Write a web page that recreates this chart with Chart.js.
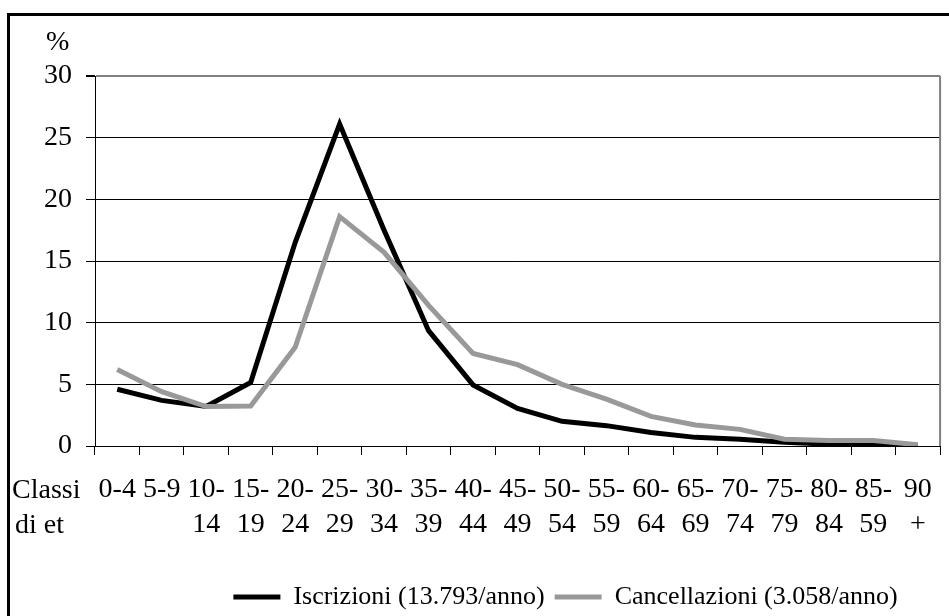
<!DOCTYPE html>
<html>
<head>
<meta charset="utf-8">
<script src="https://cdn.jsdelivr.net/npm/chart.js@4.4.1/dist/chart.umd.min.js"></script>
<style>
  body { margin: 0; background: #fff; }
  #wrap { position: relative; width: 949px; height: 616px; overflow: hidden; }
  #frame { position: absolute; left: 7px; top: 13px; width: 1000px; height: 700px; border: 3px solid #000; box-sizing: border-box; pointer-events: none; }
  canvas { position: absolute; left: 0; top: 0; }
</style>
</head>
<body>
<div id="wrap">
  <canvas id="myChart" width="949" height="616"></canvas>
  <div id="frame"></div>
</div>
<script>
const Age_classes = [
  ['0-4'], ['5-9'], ['10-', '14'], ['15-', '19'], ['20-', '24'], ['25-', '29'], ['30-', '34'],
  ['35-', '39'], ['40-', '44'], ['45-', '49'], ['50-', '54'], ['55-', '59'], ['60-', '64'],
  ['65-', '69'], ['70-', '74'], ['75-', '79'], ['80-', '84'], ['85-', '59'], ['90', '+']
];
const Iscrizioni = [4.6, 3.7, 3.2, 5.15, 16.5, 26.1, 17.5, 9.35, 4.95, 3.05, 2.0, 1.65, 1.1, 0.7, 0.55, 0.3, 0.15, 0.1, 0.05];
const Cancellazioni = [6.2, 4.4, 3.2, 3.25, 8.0, 18.6, 15.7, 11.4, 7.5, 6.6, 5.0, 3.8, 2.4, 1.7, 1.35, 0.55, 0.45, 0.45, 0.1];
const Series_names = ['Iscrizioni (13.793/anno)', 'Cancellazioni (3.058/anno)'];
const Y_ticks = [0, 5, 10, 15, 20, 25, 30];

const Font_family = "'Liberation Serif', 'Times New Roman', serif";
const Tick_size = 28;
const Legend_size = 26;

// extra text + grey right edge of plot area, like excel draws it
const extras = {
  id: 'extras',
  afterLayout(chart) {
    // excel legend box sits a bit right of centre
    const lg = chart.legend;
    lg.left += 48; lg.right += 48;
    lg.top += 4; lg.bottom += 4;
  },
  beforeDatasetsDraw(chart) {
    const {ctx, chartArea} = chart;
    ctx.save();
    ctx.strokeStyle = '#808080';
    ctx.lineWidth = 2;
    ctx.beginPath();
    ctx.moveTo(chartArea.right, chartArea.top);
    ctx.lineTo(chartArea.right, chartArea.bottom);
    ctx.stroke();
    ctx.restore();
  },
  afterDraw(chart) {
    const ctx = chart.ctx;
    ctx.save();
    ctx.fillStyle = '#000';
    ctx.font = Tick_size + 'px ' + Font_family;
    ctx.textBaseline = 'alphabetic';
    ctx.textAlign = 'left';
    ctx.fillText('%', 46, 50);
    ctx.fillText('Classi', 12, 498);
    ctx.fillText('di et', 15, 533);
    ctx.restore();
  }
};

Chart.defaults.font.family = Font_family;
Chart.defaults.font.size = Tick_size;
Chart.defaults.color = '#000';

new Chart('myChart', {
  type: 'line',
  data: {
    labels: Age_classes,
    datasets: [{
      label: Series_names[0],
      data: Iscrizioni,
      borderColor: '#000000', backgroundColor: '#000000',
      borderWidth: 5, order: 1,
    }, {
      label: Series_names[1],
      data: Cancellazioni,
      borderColor: '#999999', backgroundColor: '#999999',
      borderWidth: 5, order: 0,
    }]
  },
  options: {
    responsive: false,
    animation: false,
    devicePixelRatio: 1,
    layout: {padding: {top: 76, right: 6, left: 0, bottom: 0}},
    elements: {
      line: {tension: 0, borderJoinStyle: 'miter', borderCapStyle: 'butt'},
      point: {radius: 0, hoverRadius: 0},
    },
    scales: {
      x: {
        offset: true,
        afterFit: s => { s.height = 124; },
        grid: {offset: true, drawOnChartArea: false, drawTicks: true, tickLength: 9, color: '#000', lineWidth: 1},
        border: {color: '#000', width: 1},
        ticks: {padding: 17, maxRotation: 0, autoSkip: false, font: {size: Tick_size, lineHeight: 1.25}},
      },
      y: {
        min: 0, max: 30,
        afterFit: s => { s.width = 95; },
        afterBuildTicks: s => { s.ticks = Y_ticks.map(v => ({value: v})); },
        grid: {
          color: c => (c.tick && c.tick.value === 30) ? '#808080' : '#000',
          lineWidth: c => (c.tick && c.tick.value === 30) ? 2 : 1,
          tickLength: 9, tickColor: '#000',
        },
        border: {color: '#000', width: 1},
        ticks: {padding: 14},
      }
    },
    plugins: {
      tooltip: {enabled: false},
      legend: {
        position: 'bottom',
        fullSize: false,
        labels: {
          boxWidth: 47, boxHeight: 5, padding: 10,
          font: {size: Legend_size},
          sort: (a, b) => a.datasetIndex - b.datasetIndex,
          generateLabels: chart => Chart.defaults.plugins.legend.labels.generateLabels(chart).map(l => Object.assign(l, {lineWidth: 0})),
        }
      }
    }
  },
  plugins: [extras]
});
</script>
</body>
</html>
